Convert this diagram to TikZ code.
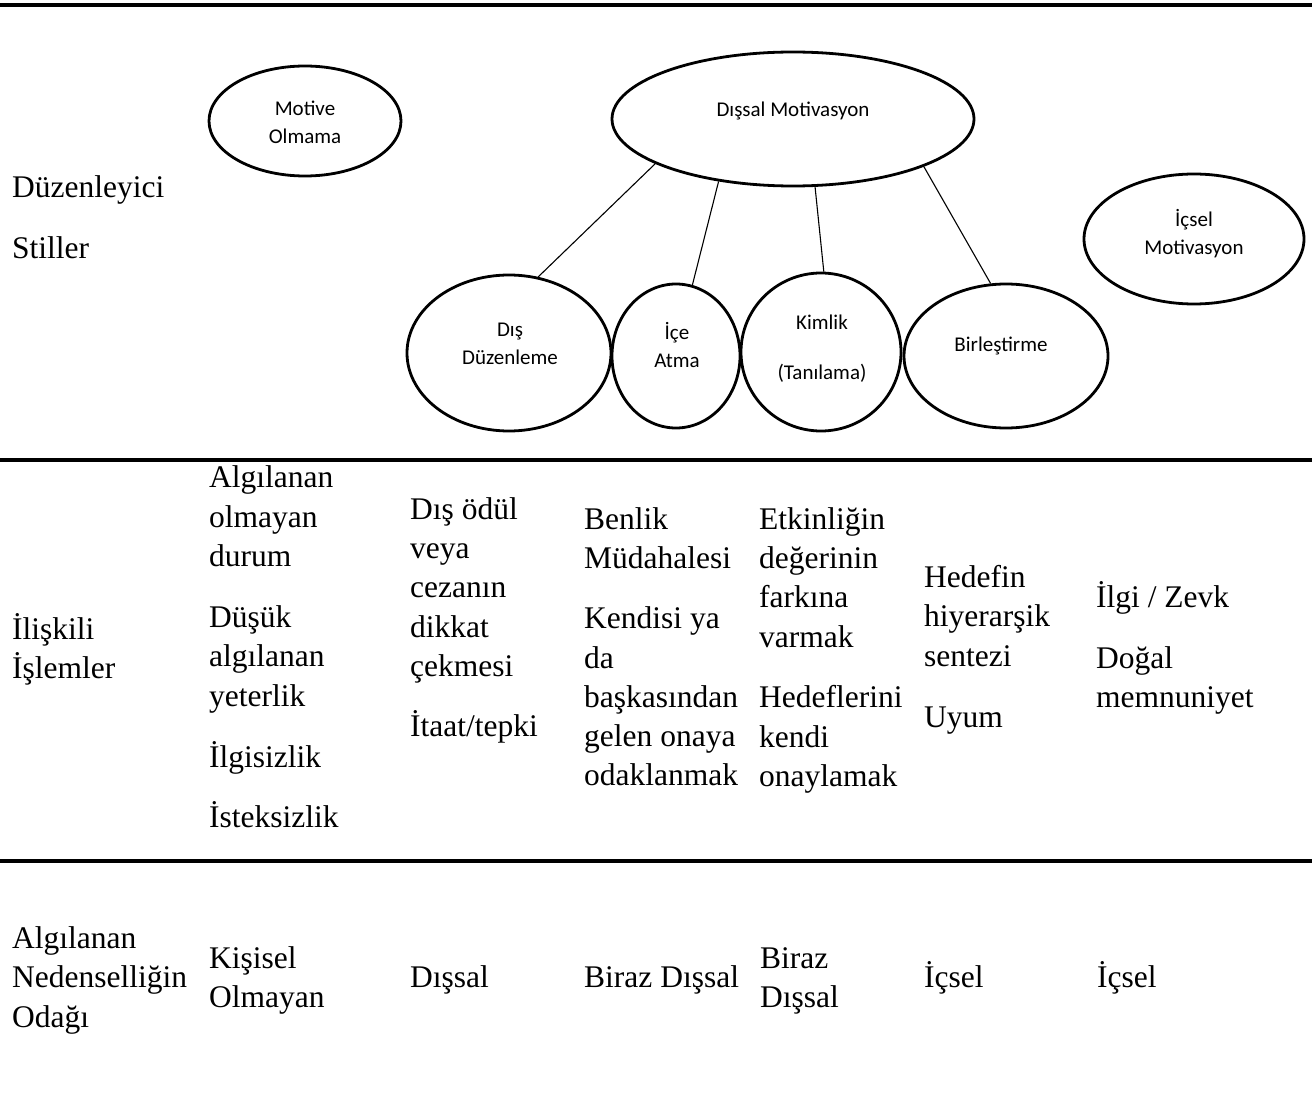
\documentclass[tikz,border=0pt]{standalone}
\usepackage{fontspec}
\setmainfont{Liberation Serif}
\newfontfamily\calfont{Carlito}
\usetikzlibrary{shapes.geometric}
\begin{document}
\begin{tikzpicture}[x=1pt,y=-1pt,
  ell/.style={draw, ellipse, line width=2.8pt, inner sep=0pt},
  sans/.style={font=\calfont\fontsize{21}{25}\selectfont, anchor=mid, inner sep=0pt, yshift=-4pt},
  serif/.style={font=\fontsize{31.5}{39.5}\selectfont, anchor=base west, inner sep=0pt, yshift=-9pt},
  conn/.style={line width=1.1pt},
  rule/.style={line width=3.5pt}]
\useasboundingbox (0,0) rectangle (1312,1115);

% horizontal rules
\coordinate (r1l) at (0,5);   \coordinate (r1r) at (1312,5);
\coordinate (r2l) at (0,460); \coordinate (r2r) at (1312,460);
\coordinate (r3l) at (0,861); \coordinate (r3r) at (1312,861);
\draw[rule] (r1l) -- (r1r);
\draw[rule] (r2l) -- (r2r);
\draw[rule] (r3l) -- (r3r);

% ellipses
\node[ell, minimum width=192, minimum height=110] (mo) at (305,121) {};
\node[ell, minimum width=362, minimum height=134] (dm) at (793,119) {};
\node[ell, minimum width=220, minimum height=130] (im) at (1194,239) {};
\node[ell, minimum width=204, minimum height=156] (dd) at (509,353) {};
\node[ell, minimum width=128, minimum height=144] (ia) at (676,356) {};
\node[ell, minimum width=160, minimum height=158] (ki) at (821,352) {};
\node[ell, minimum width=204, minimum height=144] (bi) at (1006,356) {};

% ellipse labels
\node[sans] (mo1) at (305,109) {Motive};
\node[sans] (mo2) at (305,137) {Olmama};
\node[sans] (dm1) at (793,110) {Dışsal Motivasyon};
\node[sans] (im1) at (1194,220) {İçsel};
\node[sans] (im2) at (1194,248) {Motivasyon};
\node[sans] (dd1) at (510,330) {Dış};
\node[sans] (dd2) at (510,358) {Düzenleme};
\node[sans] (ia1) at (677,333) {İçe};
\node[sans] (ia2) at (677,361) {Atma};
\node[sans] (ki1) at (822,323) {Kimlik};
\node[sans] (ki2) at (822,373) {(Tanılama)};
\node[sans] (bi1) at (1001,345) {Birleştirme};

% connectors
\draw[conn] (dm.198) -- (dd.69);
\draw[conn] (dm.220) -- (ia.77);
\draw[conn] (dm.288) -- (ki.88);
\draw[conn] (dm.340) -- (bi.102);

% section 1 heading
\node[serif] (h1a) at (12,189) {Düzenleyici};
\node[serif] (h1b) at (12,250) {Stiller};

% section 2
\node[serif] (h2a) at (12,630) {İlişkili};
\node[serif] (h2b) at (12,669) {İşlemler};

\node[serif] (c1a) at (209,478) {Algılanan};
\node[serif] (c1b) at (209,518) {olmayan};
\node[serif] (c1c) at (209,557) {durum};
\node[serif] (c1d) at (209,618) {Düşük};
\node[serif] (c1e) at (209,657) {algılanan};
\node[serif] (c1f) at (209,697) {yeterlik};
\node[serif] (c1g) at (209,758) {İlgisizlik};
\node[serif] (c1h) at (209,818) {İsteksizlik};

\node[serif] (c2a) at (410,510) {Dış ödül};
\node[serif] (c2b) at (410,549) {veya};
\node[serif] (c2c) at (410,588) {cezanın};
\node[serif] (c2d) at (410,628) {dikkat};
\node[serif] (c2e) at (410,667) {çekmesi};
\node[serif] (c2f) at (410,727) {İtaat/tepki};

\node[serif] (c3a) at (584,520) {Benlik};
\node[serif] (c3b) at (584,559) {Müdahalesi};
\node[serif] (c3c) at (584,619) {Kendisi ya};
\node[serif] (c3d) at (584,659) {da};
\node[serif] (c3e) at (584,698) {başkasından};
\node[serif] (c3f) at (584,737) {gelen onaya};
\node[serif] (c3g) at (584,776) {odaklanmak};

\node[serif] (c4a) at (759,520) {Etkinliğin};
\node[serif] (c4b) at (759,559) {değerinin};
\node[serif] (c4c) at (759,598) {farkına};
\node[serif] (c4d) at (759,638) {varmak};
\node[serif] (c4e) at (759,698) {Hedeflerini};
\node[serif] (c4f) at (759,738) {kendi};
\node[serif] (c4g) at (759,777) {onaylamak};

\node[serif] (c5a) at (924,578) {Hedefin};
\node[serif] (c5b) at (924,617) {hiyerarşik};
\node[serif] (c5c) at (924,657) {sentezi};
\node[serif] (c5d) at (924,718) {Uyum};

\node[serif] (c6a) at (1096,598) {İlgi / Zevk};
\node[serif] (c6b) at (1096,659) {Doğal};
\node[serif] (c6c) at (1096,698) {memnuniyet};

% section 3
\node[serif] (h3a) at (12,939) {Algılanan};
\node[serif] (h3b) at (12,978) {Nedenselliğin};
\node[serif] (h3c) at (12,1018) {Odağı};
\node[serif] (d1a) at (209,959) {Kişisel};
\node[serif] (d1b) at (209,998) {Olmayan};
\node[serif] (d2) at (410,978) {Dışsal};
\node[serif] (d3) at (584,978) {Biraz Dışsal};
\node[serif] (d4a) at (760,959) {Biraz};
\node[serif] (d4b) at (760,998) {Dışsal};
\node[serif] (d5) at (924,978) {İçsel};
\node[serif] (d6) at (1097,978) {İçsel};
\end{tikzpicture}
\end{document}
